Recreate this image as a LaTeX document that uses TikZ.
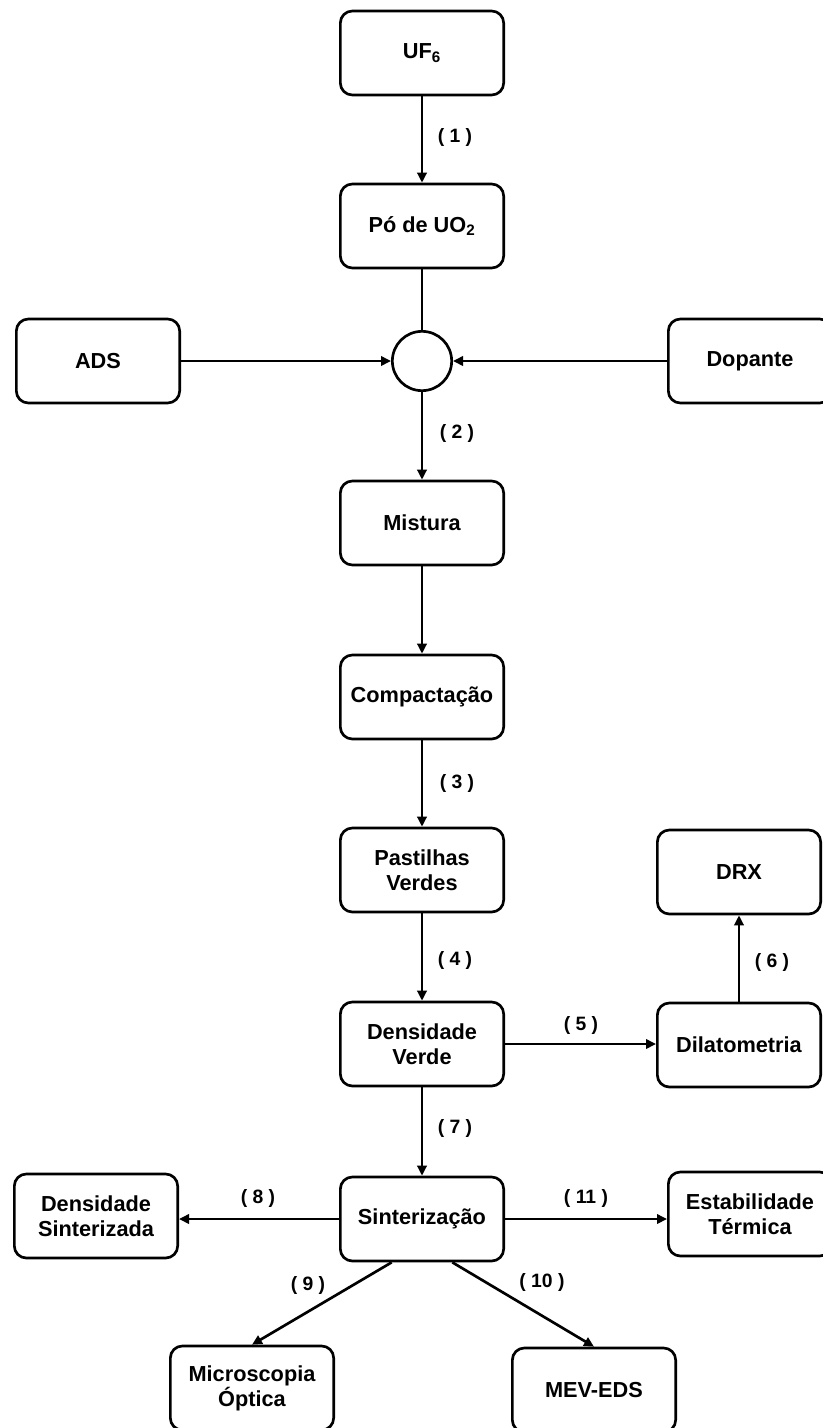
\documentclass[tikz,border=0pt]{standalone}
\usepackage{fontspec}
\setmainfont{Liberation Sans}
\usetikzlibrary{arrows.meta}
\tikzset{
  stage/.style={draw, rounded corners=9pt, minimum width=122.5pt, minimum height=63pt, align=center, inner sep=1pt, font=\bfseries\fontsize{16.3}{18.8}\selectfont},
  junction/.style={draw, circle, minimum size=44.5pt, inner sep=0pt},
  flow/.style={-{Triangle[length=7.5pt,width=7pt]}},
  steplabel/.style={inner sep=0.75pt, font=\bfseries\fontsize{14.5}{17}\selectfont}
}

\begin{document}
\begin{tikzpicture}[x=0.75pt,y=0.75pt,yscale=-1,xscale=1,line width=2pt]
\useasboundingbox (0,0) rectangle (822,1428);

%Shape: Rounded Rect
\node [stage] (uf) at (422,53) {UF\textsubscript{6}};
\node [stage] (po) at (422,226) {Pó de UO\textsubscript{2}};
%Shape: Circle
\node [junction] (mix) at (422,361) {};
\node [stage] (ads) at (98,361) {ADS};
\node [stage] (dop) at (750,361) {Dopante};
\node [stage] (mist) at (422,523) {Mistura};
\node [stage] (comp) at (422,697) {Compactação};
\node [stage] (past) at (422,870) {Pastilhas\\Verdes};
\node [stage] (drx) at (739,872) {DRX};
\node [stage] (dverde) at (422,1044) {Densidade\\Verde};
\node [stage] (dila) at (739,1045) {Dilatometria};
\node [stage] (sint) at (422,1219) {Sinterização};
\node [stage] (dsint) at (96,1216) {Densidade\\Sinterizada};
\node [stage] (estab) at (750,1214) {Estabilidade\\Térmica};
\node [stage] (micro) at (252,1388) {Microscopia\\Óptica};
\node [stage] (mev) at (594,1390) {MEV-EDS};

%Straight Lines
\draw [flow] (uf) -- (po);
\draw (po) -- (mix);
\draw [flow] (ads) -- (mix);
\draw [flow] (dop) -- (mix);
\draw [flow] (mix) -- (mist);
\draw [flow] (mist) -- (comp);
\draw [flow] (comp) -- (past);
\draw [flow] (past) -- (dverde);
\draw [flow] (dverde.east) -- (dverde.east -| dila.west);
\draw [flow] (dila) -- (drx);
\draw [flow] (dverde) -- (sint);
\draw [flow] (sint.west) -- (sint.west -| dsint.east);
\draw [flow] (sint.east) -- (sint.east -| estab.west);
\draw [flow] (sint.235) -- (micro.north);
\draw [flow] (sint.305) -- (mev.north);

% Text Node
\node [steplabel] (l1) at (455,137) {( 1 )};
\node [steplabel] (l2) at (457,433) {( 2 )};
\node [steplabel] (l3) at (457,783) {( 3 )};
\node [steplabel] (l4) at (455,960) {( 4 )};
\node [steplabel] (l5) at (581,1025) {( 5 )};
\node [steplabel] (l6) at (772,962) {( 6 )};
\node [steplabel] (l7) at (455,1128) {( 7 )};
\node [steplabel] (l8) at (258,1198) {( 8 )};
\node [steplabel] (l9) at (308,1285) {( 9 )};
\node [steplabel] (l10) at (542,1282) {( 10 )};
\node [steplabel] (l11) at (586,1198) {( 11 )};

\end{tikzpicture}
\end{document}
